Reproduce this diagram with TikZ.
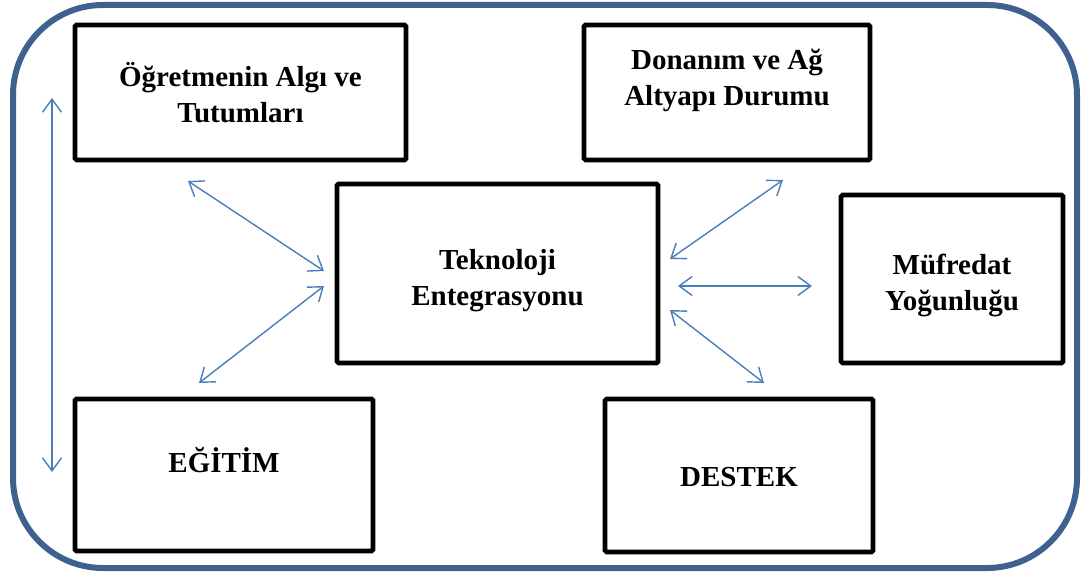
\documentclass[tikz,border=0pt]{standalone}
\usepackage{fontspec}
\setmainfont{Liberation Serif}
\usetikzlibrary{arrows.meta}
\definecolor{frameblue}{HTML}{3E6190}
\definecolor{arrowblue}{HTML}{4A7EBB}
\begin{document}
\begin{tikzpicture}[x=1pt,y=-1pt,
  factor/.style={draw=black, line width=4.6pt, rounded corners=1.5pt, fill=white,
    inner sep=0pt, outer sep=0pt},
  label/.style={font=\fontsize{29}{36}\selectfont\bfseries, align=center, inner sep=0pt},
  link/.style={draw=arrowblue, line width=1.4pt,
    {Straight Barb[length=13pt,width=19pt,line width=1.4pt]}-{Straight Barb[length=13pt,width=19pt,line width=1.4pt]}}
]
\useasboundingbox (0,0) rectangle (1088,577);

% outer frame
\draw[frameblue, line width=6pt, rounded corners=90pt] (13,5) rectangle (1077,568);

% factor boxes
\node[factor, minimum width=331pt, minimum height=135pt] (ogr) at (240.5,92.5) {};
\node[factor, minimum width=286pt, minimum height=135pt] (don) at (727,92.5) {};
\node[factor, minimum width=321pt, minimum height=179pt] (tek) at (497.5,273.5) {};
\node[factor, minimum width=222pt, minimum height=168pt] (muf) at (952,279) {};
\node[factor, minimum width=298pt, minimum height=152pt] (egt) at (224,475) {};
\node[factor, minimum width=268pt, minimum height=153pt] (des) at (739,475.5) {};

% box texts
\node[label] (ogrt) at ([yshift=-0.5pt]ogr.center) {Öğretmenin Algı ve\\Tutumları};
\node[label] (dont) at ([yshift=12pt]don.center) {Donanım ve Ağ\\Altyapı Durumu};
\node[label] (tekt) at ([yshift=-7pt]tek.center) {Teknoloji\\Entegrasyonu};
\node[label] (muft) at ([yshift=-6pt]muf.center) {Müfredat\\Yoğunluğu};
\node[label] (egtt) at ([yshift=15pt]egt.center) {EĞİTİM};
\node[label] (dest) at ([yshift=-1.5pt]des.center) {DESTEK};

% free ends of the two-way arrows
\coordinate (v1) at (52,98);   \coordinate (v2) at (52,472);
\coordinate (a1s) at (188,181); \coordinate (a1e) at (324,271);
\coordinate (a2s) at (324,286); \coordinate (a2e) at (199,383);
\coordinate (a3s) at (783,180); \coordinate (a3e) at (670,259);
\coordinate (a4s) at (678,286); \coordinate (a4e) at (812,286);
\coordinate (a5s) at (670,310); \coordinate (a5e) at (764,383);

\draw[link] (v1) -- (v2);
\draw[link] (a1s) -- (a1e);
\draw[link] (a2s) -- (a2e);
\draw[link] (a3s) -- (a3e);
\draw[link] (a4s) -- (a4e);
\draw[link] (a5s) -- (a5e);
\end{tikzpicture}
\end{document}
